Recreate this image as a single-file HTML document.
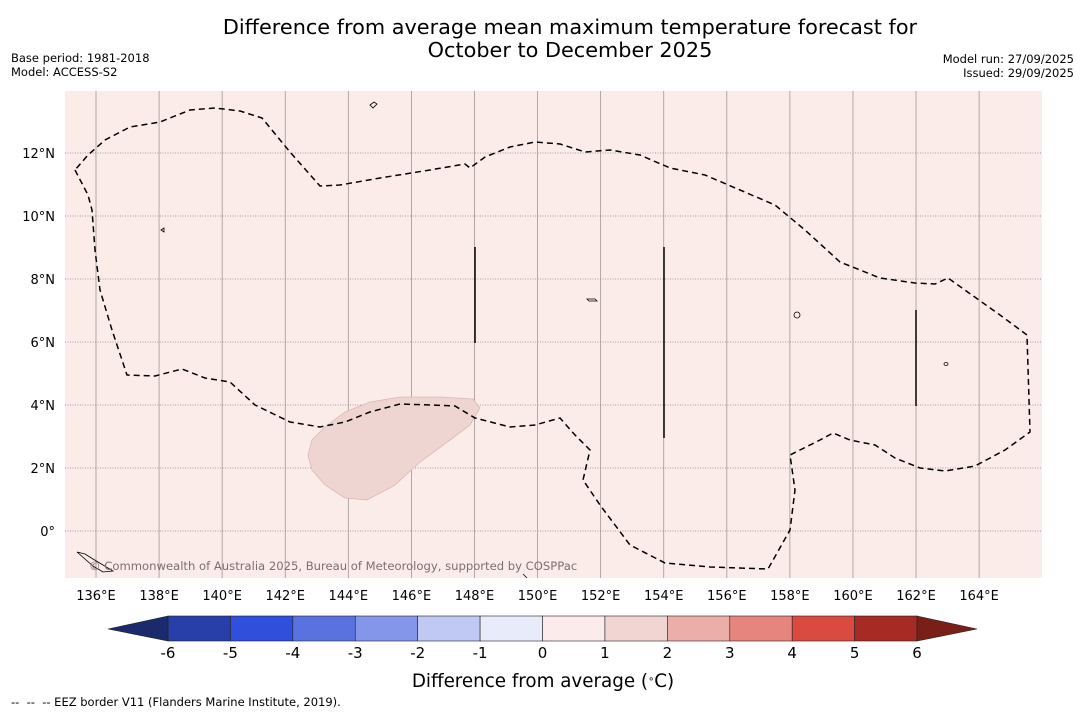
<!DOCTYPE html>
<html><head><meta charset="utf-8"><style>
body{margin:0;background:#fff;font-family:"Liberation Sans","DejaVu Sans",sans-serif}
svg text{font-family:"DejaVu Sans","Liberation Sans",sans-serif}
</style></head><body>
<svg id="chart" width="1085" height="713" xmlns="http://www.w3.org/2000/svg">
<rect width="1085" height="713" fill="#fff"/>
<text x="570" y="34" font-size="20.8" text-anchor="middle">Difference from average mean maximum temperature forecast for</text>
<text x="570" y="57" font-size="20.8" text-anchor="middle">October to December 2025</text>
<text x="11" y="62" font-size="11.5">Base period: 1981-2018</text>
<text x="11" y="76" font-size="11.5">Model: ACCESS-S2</text>
<text x="1074" y="63" font-size="11.5" text-anchor="end">Model run: 27/09/2025</text>
<text x="1074" y="77" font-size="11.5" text-anchor="end">Issued: 29/09/2025</text>
<rect x="65" y="91" width="977" height="487" fill="#fbecea"/>
<g id="grid"></g>
<polygon points="308,455 312,470 325,485 345,498 367,500 395,485 420,462 450,440 470,425 480,408 473,399 440,397 400,397 370,402 345,412 325,427 312,440" fill="#efd5d2" stroke="#d7b9b6" stroke-width="0.8"/>
<polyline fill="none" stroke="#000" stroke-width="1.5" stroke-dasharray="6,4" points="75,170 88,195 92,210 95,250 100,290 112,330 127,375 155,376 182,369 205,378 230,382 255,405 290,422 320,427 345,422 370,412 400,404 430,405 455,406 475,418 510,427 535,425 560,418 575,435 590,450 583,480 600,505 630,545 665,563 710,567 768,569 790,530 795,490 790,455 800,450 820,440 833,433 850,440 875,445 895,458 920,468 945,471 975,466 1005,450 1030,432 1027,335 1000,315 948,278 935,284 915,283 880,278 840,262 805,230 775,205 740,190 705,175 670,168 640,155 610,150 585,152 560,144 535,142 510,147 485,157 470,168 465,164 430,170 380,178 340,185 320,186 290,152 262,118 240,111 215,108 190,110 160,122 130,127 105,140 88,155 75,170"/>
<g stroke="#000" stroke-width="1.5">
<line x1="475" y1="247" x2="475" y2="343"/><line x1="664" y1="247" x2="664" y2="438"/><line x1="916" y1="310" x2="916" y2="406"/>
</g>
<g fill="none" stroke="#000" stroke-width="0.8">
<path d="M370,105 l4,-3 l3,2 l-4,4 z"/><path d="M161,230 l3,-2 l0,4 z"/><path d="M587,299 l8,0 l2,2 l-8,0 z"/><ellipse cx="797" cy="315" rx="3" ry="3"/><ellipse cx="946" cy="364" rx="2" ry="1.5"/><path d="M77,552 l8,2 l8,5 l10,6 l10,6 l-10,1 l-10,-6 z"/><path d="M523,574 l4,4"/>
</g>
<text x="89" y="570" font-size="11.6" fill="#7f6e6c">© Commonwealth of Australia 2025, Bureau of Meteorology, supported by COSPPac</text>
<g id="axes"></g>
<g id="cbar"></g>
<text x="543" y="687" font-size="18.3" text-anchor="middle">Difference from average (<tspan baseline-shift="super" font-size="10">∘</tspan>C)</text>
<text x="11" y="706" font-size="11.5" xml:space="preserve">--  --  -- EEZ border V11 (Flanders Marine Institute, 2019).</text>
</svg>
<script>
const lonTicks=[136,138,140,142,144,146,148,150,152,154,156,158,160,162,164];
const latTicks=[0,2,4,6,8,10,12];
const cbarTicks=[-6,-5,-4,-3,-2,-1,0,1,2,3,4,5,6];
const cbarColors=["#283ea8","#2f4fdc","#5a72e0","#8396e9","#c0c8f4","#e8ebfa","#fbeceb","#f1d5d2","#ecaea8","#e6857d","#db4a40","#a82a24"];
const ns="http://www.w3.org/2000/svg";
const X=lon=>96+(lon-136)*31.54;
const Y=lat=>531-lat*31.5;
const CX=v=>168+(v+6)*62.42;
function mk(t,a,p){const e=document.createElementNS(ns,t);for(const k in a)e.setAttribute(k,a[k]);p.appendChild(e);return e;}
const g=document.getElementById('grid'),ax=document.getElementById('axes'),cb=document.getElementById('cbar');
lonTicks.forEach(l=>{const e=mk('line',{x1:X(l),x2:X(l),y1:91,y2:578,stroke:'#a09696','stroke-width':0.8},g);


const t=mk('text',{x:X(l),y:600,'font-size':13,'text-anchor':'middle'},ax);t.textContent=l+'°E';

});
latTicks.forEach(l=>{const e=mk('line',{x1:65,x2:1042,y1:Y(l),y2:Y(l),stroke:'#8a8282','stroke-width':0.8,'stroke-dasharray':'1,1.5'},g);


const t=mk('text',{x:55,y:Y(l)+5,'font-size':13,'text-anchor':'end'},ax);t.textContent=l===0?'0°':l+'°N';

});
cbarColors.forEach((c,i)=>{const v=cbarTicks[i];const r=mk('rect',{x:CX(v),y:616,width:CX(v+1)-CX(v),height:25,fill:c,stroke:'#222','stroke-width':0.6},cb);

});
const lt=mk('polygon',{points:`${CX(-6)},616 108,629 ${CX(-6)},641`,fill:'#1a2a6c',stroke:'#222','stroke-width':0.6},cb);


const rt=mk('polygon',{points:`${CX(6)},616 977,629 ${CX(6)},641`,fill:'#7a1e18',stroke:'#222','stroke-width':0.6},cb);


cbarTicks.forEach(v=>{const t=mk('text',{x:CX(v),y:658,'font-size':15,'text-anchor':'middle'},cb);t.textContent=v;

});
</script>
</body></html>
